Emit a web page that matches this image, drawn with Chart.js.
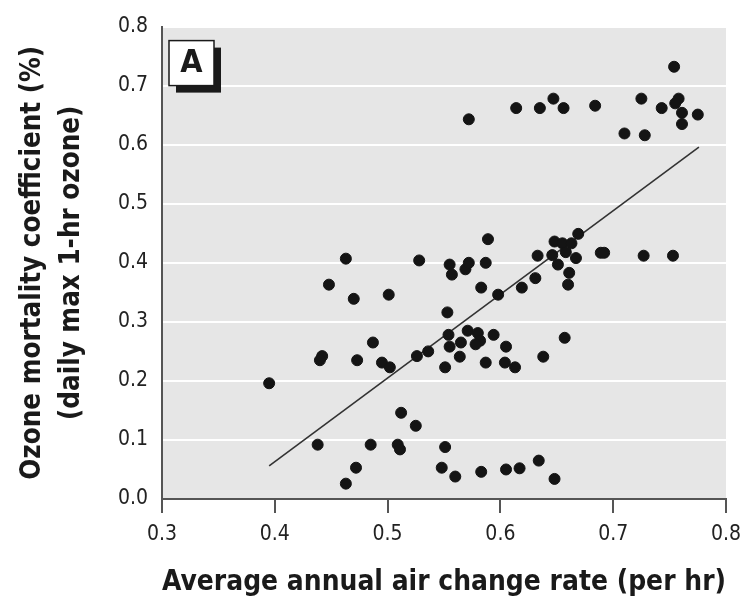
<!DOCTYPE html>
<html>
<head>
<meta charset="utf-8">
<script src="https://cdn.jsdelivr.net/npm/chart.js@4.4.1/dist/chart.umd.min.js"></script>
<style>
  html, body { margin: 0; padding: 0; background: #fff; }
  #wrap { width: 750px; height: 607px; }
</style>
</head>
<body>
<div id="wrap"><canvas id="chart" width="750" height="607"></canvas></div>
<script>
// air change rate (per hr) vs ozone mortality coefficient (%)
var airChange = [
  0.754, 0.572, 0.614, 0.635, 0.647, 0.656, 0.684, 0.725, 0.743, 0.758, 0.755, 0.761, 0.775, 0.761, 0.710, 0.728,
  0.589, 0.669, 0.648, 0.655, 0.663, 0.658, 0.646, 0.633, 0.667, 0.651, 0.661, 0.631, 0.660, 0.689, 0.692, 0.727,
  0.753, 0.555, 0.557, 0.569, 0.572, 0.587, 0.583, 0.598, 0.619, 0.463, 0.528, 0.448, 0.470, 0.501, 0.553, 0.487,
  0.442, 0.440, 0.473, 0.495, 0.502, 0.526, 0.536, 0.554, 0.555, 0.565, 0.564, 0.551, 0.571, 0.580, 0.582, 0.578,
  0.594, 0.605, 0.587, 0.604, 0.613, 0.638, 0.657, 0.395,
  0.512, 0.525, 0.438, 0.485, 0.509, 0.511, 0.551, 0.472, 0.548, 0.463, 0.560, 0.583, 0.605, 0.617, 0.634, 0.648
];
var ozoneCoef = [
  0.732, 0.643, 0.662, 0.662, 0.678, 0.662, 0.666, 0.678, 0.662, 0.678, 0.670, 0.654, 0.651, 0.635, 0.619, 0.616,
  0.440, 0.449, 0.436, 0.433, 0.433, 0.418, 0.413, 0.412, 0.408, 0.397, 0.383, 0.374, 0.363, 0.417, 0.417, 0.412,
  0.412, 0.397, 0.380, 0.389, 0.400, 0.400, 0.358, 0.346, 0.358, 0.407, 0.404, 0.363, 0.339, 0.346, 0.316, 0.265,
  0.242, 0.235, 0.235, 0.231, 0.223, 0.242, 0.250, 0.278, 0.258, 0.265, 0.241, 0.223, 0.285, 0.281, 0.268, 0.262,
  0.278, 0.258, 0.231, 0.231, 0.223, 0.241, 0.273, 0.196,
  0.146, 0.124, 0.092, 0.092, 0.092, 0.084, 0.088, 0.053, 0.053, 0.026, 0.038, 0.046, 0.050, 0.052, 0.065, 0.034
];
// fitted regression line end points
var fitX = [0.395, 0.776];
var fitY = [0.056, 0.596];

var xTicks = [0.3, 0.4, 0.5, 0.6, 0.7, 0.8];
var yTicks = [0.0, 0.1, 0.2, 0.3, 0.4, 0.5, 0.6, 0.7, 0.8];

var FONT = "'Liberation Sans Narrow', 'DejaVu Sans Condensed', 'Arial Narrow', sans-serif";

var points = airChange.map(function (x, i) { return { x: x, y: ozoneCoef[i] }; });
var fitLine = fitX.map(function (x, i) { return { x: x, y: fitY[i] }; });

// gray plot panel + the "A" panel label
var panelPlugin = {
  id: 'panel',
  beforeDraw: function (chart) {
    var a = chart.chartArea, ctx = chart.ctx;
    ctx.save();
    ctx.fillStyle = '#e6e6e6';
    ctx.fillRect(a.left, a.top, a.right - a.left, a.bottom - a.top);
    ctx.restore();
  },
  afterDraw: function (chart) {
    var a = chart.chartArea, ctx = chart.ctx;
    var bx = a.left + 7, by = a.top + 14, bw = 45, bh = 45;
    ctx.save();
    ctx.fillStyle = '#1a1a1a';
    ctx.fillRect(bx + 7, by + 7, bw, bh);
    ctx.fillStyle = '#fff';
    ctx.fillRect(bx, by, bw, bh);
    ctx.strokeStyle = '#1a1a1a';
    ctx.lineWidth = 1.5;
    ctx.strokeRect(bx, by, bw, bh);
    ctx.fillStyle = '#1a1a1a';
    ctx.font = 'bold 32px ' + FONT;
    ctx.textAlign = 'center';
    ctx.textBaseline = 'middle';
    ctx.fillText('A', bx + bw / 2, by + bh / 2 + 1);
    ctx.restore();
  }
};

var ctx = document.getElementById('chart').getContext('2d');
new Chart(ctx, {
  type: 'scatter',
  data: {
    datasets: [{
      label: 'Cities',
      data: points,
      backgroundColor: '#141414',
      borderColor: '#141414',
      pointRadius: 5.5,
      pointHoverRadius: 5.5,
      order: 0
    }, {
      type: 'line',
      label: 'Fit',
      data: fitLine,
      borderColor: '#333',
      borderWidth: 1.6,
      pointRadius: 0,
      fill: false,
      order: 1
    }]
  },
  plugins: [panelPlugin],
  options: {
    responsive: false,
    animation: false,
    layout: { padding: { top: 16, right: 19, left: 0, bottom: 0 } },
    plugins: {
      legend: { display: false },
      tooltip: { enabled: false }
    },
    scales: {
      x: {
        type: 'linear',
        min: 0.3,
        max: 0.8,
        afterFit: function (scale) { scale.height = 108; },
        afterBuildTicks: function (scale) { scale.ticks = xTicks.map(function (v) { return { value: v }; }); },
        ticks: {
          color: '#222',
          font: { family: FONT, size: 21 },
          padding: 9,
          maxRotation: 0,
          callback: function (v) { return Number(v).toFixed(1); }
        },
        grid: {
          drawOnChartArea: false,
          drawTicks: true,
          tickLength: 14,
          color: '#555',
          lineWidth: 2
        },
        border: { color: '#555', width: 2 },
        title: {
          display: true,
          text: 'Average annual air change rate (per hr)',
          color: '#1a1a1a',
          font: { family: FONT, size: 28, weight: 'bold', lineHeight: 1.2 },
          padding: { top: 0, bottom: 7 }
        }
      },
      y: {
        type: 'linear',
        min: 0,
        max: 0.8,
        afterFit: function (scale) { scale.width = 162; },
        afterBuildTicks: function (scale) { scale.ticks = yTicks.map(function (v) { return { value: v }; }); },
        ticks: {
          color: '#222',
          font: { family: FONT, size: 21 },
          padding: 14,
          callback: function (v) { return Number(v).toFixed(1); }
        },
        grid: {
          drawTicks: false,
          lineWidth: 2,
          color: function (c) { return c.tick && c.tick.value === 0 ? 'rgba(0,0,0,0)' : '#ffffff'; }
        },
        border: { color: '#555', width: 2 },
        title: {
          display: true,
          text: ['Ozone mortality coefficient (%)', '(daily max 1-hr ozone)'],
          color: '#1a1a1a',
          font: { family: FONT, size: 27.5, weight: 'bold', lineHeight: 1.4 },
          padding: { top: 14, bottom: 0 }
        }
      }
    }
  }
});
</script>
</body>
</html>
